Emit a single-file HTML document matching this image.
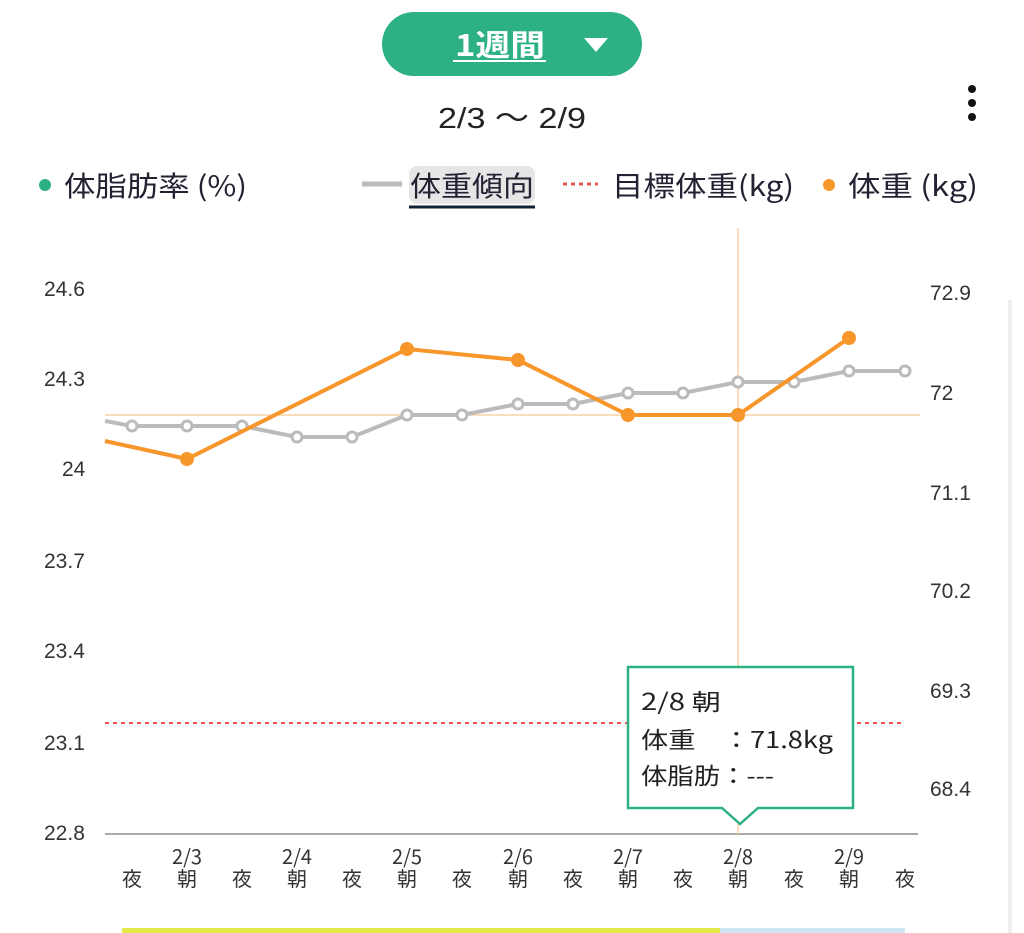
<!DOCTYPE html><html><head><meta charset="utf-8"><style>
body{margin:0;width:1024px;height:933px;background:#fff;overflow:hidden;font-family:"Liberation Sans","Noto Sans CJK JP",sans-serif;}
</style></head><body>
<svg width="1024" height="933" style="position:absolute;left:0;top:0" font-family="Liberation Sans, Noto Sans CJK JP, sans-serif">
<rect x="382" y="12" width="260" height="64" rx="32" fill="#2db184"/>
<text x="455" y="56" font-size="30" fill="#fff" font-weight="bold" textLength="90" lengthAdjust="spacingAndGlyphs" font-family="Noto Sans CJK JP, sans-serif">1週間</text>
<line x1="453" y1="61" x2="546" y2="61" stroke="#fff" stroke-width="2"/>
<polygon points="584,38 608,38 596,52" fill="#fff"/>
<text x="438" y="128" font-size="29" fill="#222" textLength="148" lengthAdjust="spacingAndGlyphs">2/3 ～ 2/9</text>
<circle cx="972" cy="89" r="4" fill="#111"/><circle cx="972" cy="103" r="4" fill="#111"/><circle cx="972" cy="117" r="4" fill="#111"/>
<g font-size="28" fill="#223" font-family="Noto Sans CJK JP, sans-serif">
<circle cx="45" cy="185" r="6" fill="#2db184"/><text x="64" y="196" textLength="183" lengthAdjust="spacingAndGlyphs">体脂肪率 (%)</text>
<line x1="362" y1="184" x2="402" y2="184" stroke="#bbb" stroke-width="5"/>
<rect x="409" y="166" width="126" height="38" rx="8" fill="#e6e6e6"/>
<text x="410" y="196" textLength="124" lengthAdjust="spacingAndGlyphs">体重傾向</text>
<line x1="409" y1="207" x2="535" y2="207" stroke="#123" stroke-width="3"/>
<line x1="563" y1="184" x2="598" y2="184" stroke="#e55" stroke-width="3" stroke-dasharray="4,4"/>
<text x="612" y="196" textLength="182" lengthAdjust="spacingAndGlyphs">目標体重(kg)</text>
<circle cx="829" cy="185" r="6" fill="#f7962b"/><text x="848" y="196" textLength="130" lengthAdjust="spacingAndGlyphs">体重 (kg)</text>
</g>
<g font-size="21" fill="#333">
<text x="44" y="296">24.6</text><text x="44" y="386">24.3</text><text x="62" y="476">24</text><text x="44" y="568">23.7</text><text x="44" y="658">23.4</text><text x="44" y="750">23.1</text><text x="44" y="840">22.8</text>
<text x="930" y="300">72.9</text><text x="930" y="400">72</text><text x="930" y="500">71.1</text><text x="930" y="598">70.2</text><text x="930" y="698">69.3</text><text x="930" y="796">68.4</text>
</g>
<line x1="105" y1="834" x2="918" y2="834" stroke="#aaa" stroke-width="2"/>
<line x1="105" y1="723" x2="905" y2="723" stroke="#e55" stroke-width="2" stroke-dasharray="4,4"/>
<line x1="105" y1="415" x2="920" y2="415" stroke="#f9d3a5" stroke-width="1.5"/>
<line x1="738" y1="228" x2="738" y2="834" stroke="#f9d3a5" stroke-width="1.5"/>
<polyline fill="none" stroke="#bbb" stroke-width="4" points="105,421 132,426 187,426 242,426 297,437 352,437 407,415 462,415 518,404 573,404 628,393 683,393 738,382 794,382 849,371 905,371"/>
<g fill="#fff" stroke="#bbb" stroke-width="3">
<circle cx="132" cy="426" r="5"/><circle cx="187" cy="426" r="5"/><circle cx="242" cy="426" r="5"/><circle cx="297" cy="437" r="5"/><circle cx="352" cy="437" r="5"/><circle cx="407" cy="415" r="5"/><circle cx="462" cy="415" r="5"/><circle cx="518" cy="404" r="5"/><circle cx="573" cy="404" r="5"/><circle cx="628" cy="393" r="5"/><circle cx="683" cy="393" r="5"/><circle cx="738" cy="382" r="5"/><circle cx="794" cy="382" r="5"/><circle cx="849" cy="371" r="5"/><circle cx="905" cy="371" r="5"/></g>
<polyline fill="none" stroke="#f7962b" stroke-width="4" points="105,441 187,459 407,349 518,360 628,415 738,415 849,338"/>
<g fill="#f7962b"><circle cx="187" cy="459" r="7"/><circle cx="407" cy="349" r="7"/><circle cx="518" cy="360" r="7"/><circle cx="628" cy="415" r="7"/><circle cx="738" cy="415" r="7"/><circle cx="849" cy="338" r="7"/></g>
<path d="M628,667 H853 V808 H758 L740,824 L722,808 H628 Z" fill="#fff" stroke="#2db184" stroke-width="2.5"/>
<g font-size="23" fill="#222" font-family="Noto Sans CJK JP, sans-serif"><text x="641" y="710" textLength="80" lengthAdjust="spacingAndGlyphs">2/8 朝</text><text x="641" y="748" textLength="192" lengthAdjust="spacingAndGlyphs">体重　：71.8kg</text><text x="641" y="784" textLength="133" lengthAdjust="spacingAndGlyphs">体脂肪：---</text></g>
<g font-size="20" fill="#333" text-anchor="middle" font-family="Noto Sans CJK JP, sans-serif">
<text x="132" y="886">夜</text><text x="187" y="886">朝</text><text x="242" y="886">夜</text><text x="297" y="886">朝</text><text x="352" y="886">夜</text><text x="407" y="886">朝</text><text x="462" y="886">夜</text><text x="518" y="886">朝</text><text x="573" y="886">夜</text><text x="628" y="886">朝</text><text x="683" y="886">夜</text><text x="738" y="886">朝</text><text x="794" y="886">夜</text><text x="849" y="886">朝</text><text x="905" y="886">夜</text>
<text x="187" y="864">2/3</text><text x="297" y="864">2/4</text><text x="407" y="864">2/5</text><text x="518" y="864">2/6</text><text x="628" y="864">2/7</text><text x="738" y="864">2/8</text><text x="849" y="864">2/9</text></g>
<rect x="122" y="928" width="598" height="5" fill="#e4e84a"/><rect x="720" y="928" width="185" height="5" fill="#cfe6f3"/>
<rect x="1008" y="300" width="4" height="633" fill="#eee"/>
</svg></body></html>
